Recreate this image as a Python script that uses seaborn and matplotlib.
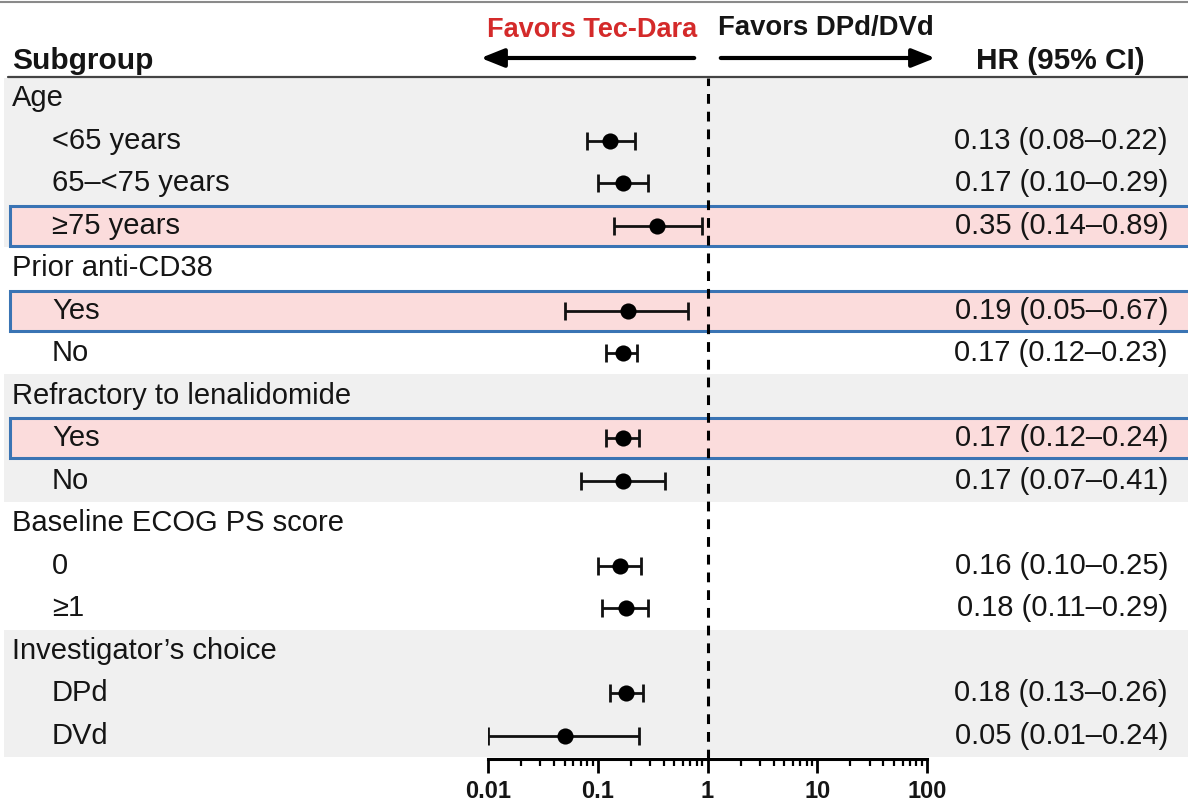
import numpy as np
import pandas as pd
import matplotlib
matplotlib.use("Agg")
import matplotlib.pyplot as plt
import matplotlib.transforms as mtrans
from matplotlib.patches import Rectangle
import seaborn as sns

# ---------------- data ----------------
labels = ["Age", "<65 years", "65\u2013<75 years", "\u226575 years",
          "Prior anti-CD38", "Yes", "No",
          "Refractory to lenalidomide", "Yes", "No",
          "Baseline ECOG PS score", "0", "\u22651",
          "Investigator\u2019s choice", "DPd", "DVd"]
is_group = [True, False, False, False,
            True, False, False,
            True, False, False,
            True, False, False,
            True, False, False]
hr = [np.nan, 0.13, 0.17, 0.35, np.nan, 0.19, 0.17, np.nan, 0.17, 0.17,
      np.nan, 0.16, 0.18, np.nan, 0.18, 0.05]
ci_lo = [np.nan, 0.08, 0.10, 0.14, np.nan, 0.05, 0.12, np.nan, 0.12, 0.07,
         np.nan, 0.10, 0.11, np.nan, 0.13, 0.01]
ci_hi = [np.nan, 0.22, 0.29, 0.89, np.nan, 0.67, 0.23, np.nan, 0.24, 0.41,
         np.nan, 0.25, 0.29, np.nan, 0.26, 0.24]
highlight = [False, False, False, True, False, True, False, False, True, False,
             False, False, False, False, False, False]
band_gray = [True, True, True, True, False, False, False, True, True, True,
             False, False, False, True, True, True]
xticks = [0.01, 0.1, 1, 10, 100]
xtick_labels = ["0.01", "0.1", "1", "10", "100"]

df = pd.DataFrame({"label": labels, "group": is_group, "hr": hr,
                   "lo": ci_lo, "hi": ci_hi, "row": np.arange(len(labels))})

# ---------------- style ----------------
sns.set_theme(style="white")
plt.rcParams["font.family"] = ["Liberation Sans", "DejaVu Sans"]

W, H = 1188, 808
fig = plt.figure(figsize=(W / 100, H / 100), dpi=100)
fig.patch.set_facecolor("white")

def fx(px):
    return px / W

def fy(py):
    return 1 - py / H

row0, step = 98.0, 42.53
top_px, bot_px = 78.0, 759.0
ax = fig.add_axes([fx(488), fy(bot_px), fx(927) - fx(488), (bot_px - top_px) / H])
ax.patch.set_visible(False)
ax.set_xscale("log")

y_top = (top_px - row0) / step
y_bot = (bot_px - row0) / step

blend = mtrans.blended_transform_factory(fig.transFigure, ax.transData)

GRAY = "#f0f0f0"
PINK = "#fbdcdc"
BLUE = "#3a74b4"
TXT = "#151515"

# background bands
for i in range(len(labels)):
    y0 = max(i - 0.5, y_top)
    h = (i + 0.5) - y0
    if band_gray[i]:
        ax.add_patch(Rectangle((fx(4), y0), 1.0, h, transform=blend,
                               facecolor=GRAY, edgecolor="none",
                               clip_on=False, zorder=0))
for i in range(len(labels)):
    if highlight[i]:
        ax.add_patch(Rectangle((fx(10), i - 0.47), 1.0, 0.94, transform=blend,
                               facecolor=PINK, edgecolor=BLUE, linewidth=2.2,
                               clip_on=False, zorder=0.5))

# reference line
ax.axvline(1, color="black", lw=2.2, ls=(0, (3.2, 2.6)), zorder=1)

# CIs and points
pts = df.dropna(subset=["hr"])
ax.errorbar(pts["hr"], pts["row"],
            xerr=[pts["hr"] - pts["lo"], pts["hi"] - pts["hr"]],
            fmt="none", ecolor="#111111", elinewidth=2.0, capsize=6.5,
            capthick=2.0, zorder=3)
sns.scatterplot(data=pts, x="hr", y="row", ax=ax, color="black", s=135,
                edgecolor="black", linewidth=0, zorder=4, legend=False)

ax.set_xlim(0.01, 100)
ax.set_ylim(y_bot, y_top)
ax.set_xlabel("")
ax.set_ylabel("")
ax.set_yticks([])
for s in ["top", "left", "right"]:
    ax.spines[s].set_visible(False)
ax.spines["bottom"].set_linewidth(2.2)
ax.spines["bottom"].set_color("black")
ax.set_xticks(xticks)
ax.set_xticklabels(xtick_labels, fontsize=17, fontweight="bold", color=TXT)
ax.tick_params(axis="x", which="major", direction="out", length=10, width=2,
               color="black", pad=5, bottom=True)
ax.xaxis.set_minor_locator(matplotlib.ticker.LogLocator(base=10, subs=np.arange(2, 10)))
ax.xaxis.set_minor_formatter(matplotlib.ticker.NullFormatter())
ax.tick_params(axis="x", which="minor", direction="out", length=5, width=1.6,
               color="black", bottom=True)

# row texts
for i, row in df.iterrows():
    xpos = fx(12) if row["group"] else fx(52)
    ax.text(xpos, i, row["label"], transform=blend, ha="left", va="center",
            fontsize=21, color=TXT, zorder=5)
    if not np.isnan(row["hr"]):
        s = f"{row['hr']:.2f} ({row['lo']:.2f}\u2013{row['hi']:.2f})"
        ax.text(fx(1168), i, s, transform=blend, ha="right", va="center",
                fontsize=21, color=TXT, zorder=5)

# header
fig.text(fx(12), fy(61), "Subgroup", ha="left", va="center", fontsize=21.5,
         fontweight="bold", color=TXT)
fig.text(fx(1060), fy(61), "HR (95% CI)", ha="center", va="center", fontsize=21.5,
         fontweight="bold", color=TXT)
fig.text(fx(697), fy(30), "Favors Tec-Dara", ha="right", va="center",
         fontsize=19.5, fontweight="bold", color="#d42a2a")
fig.text(fx(718), fy(28), "Favors DPd/DVd", ha="left", va="center",
         fontsize=19.8, fontweight="bold", color=TXT)
fig.add_artist(matplotlib.patches.FancyArrowPatch(
    (fx(697), fy(58)), (fx(478), fy(58)), transform=fig.transFigure,
    arrowstyle="-|>,head_length=1.0,head_width=0.4", mutation_scale=14,
    color="black", lw=3))
fig.add_artist(matplotlib.patches.FancyArrowPatch(
    (fx(718), fy(58)), (fx(938), fy(58)), transform=fig.transFigure,
    arrowstyle="-|>,head_length=1.0,head_width=0.4", mutation_scale=14,
    color="black", lw=3))

# header rule and top rule
fig.add_artist(matplotlib.lines.Line2D([fx(8), 1], [fy(77), fy(77)],
                                       transform=fig.transFigure,
                                       color="#444444", lw=1.6))
fig.add_artist(matplotlib.lines.Line2D([0, 1], [fy(2), fy(2)],
                                       transform=fig.transFigure,
                                       color="#8a8a8a", lw=1.5))

fig.savefig("out.png", dpi=100)
